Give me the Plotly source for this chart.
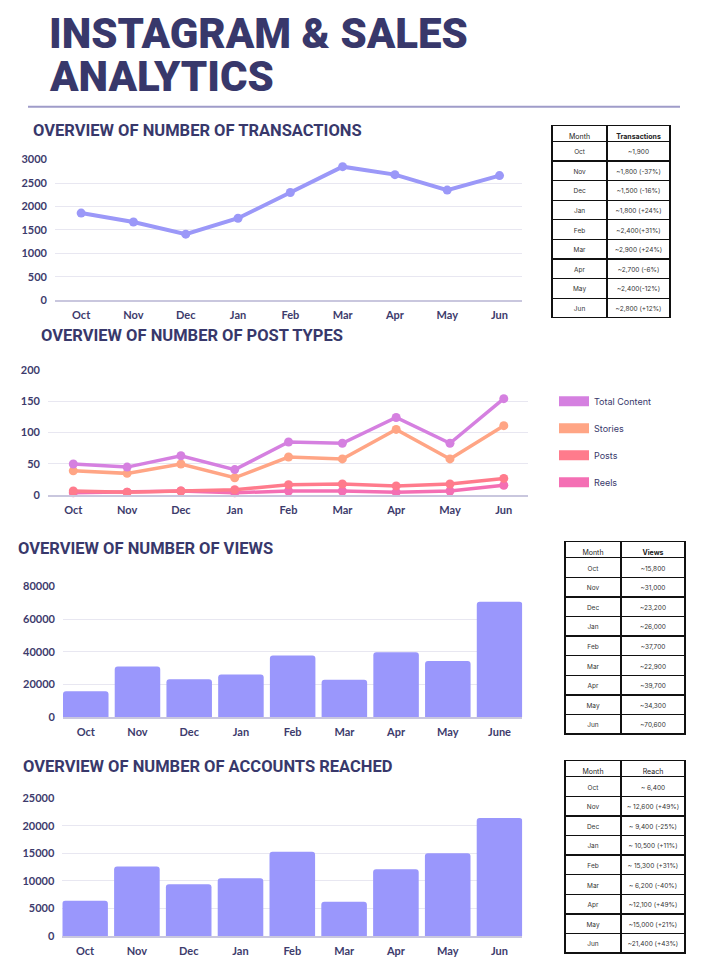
import plotly.graph_objects as go

W, H = 726, 968

months = ["Oct", "Nov", "Dec", "Jan", "Feb", "Mar", "Apr", "May", "Jun"]
views_months = ["Oct", "Nov", "Dec", "Jan", "Feb", "Mar", "Apr", "May", "June"]

transactions = [1860, 1670, 1410, 1750, 2300, 2850, 2680, 2350, 2660]

total_content = [50, 45, 63, 41, 85, 83, 124, 83, 154]
stories = [39, 35, 50, 28, 61, 58, 105, 58, 111]
posts = [7, 5, 7, 9, 17, 18, 15, 18, 27]
reels = [4, 5, 7, 4, 7, 7, 5, 7, 16]

views = [15800, 31000, 23200, 26000, 37700, 22900, 39700, 34300, 70600]
reach = [6400, 12600, 9400, 10500, 15300, 6200, 12100, 15000, 21400]

trans_table = ["~1,900", "~1,800 (-37%)", "~1,500 (-16%)", "~1,800 (+24%)", "~2,400(+31%)",
               "~2,900 (+24%)", "~2,700 (-6%)", "~2,400(-12%)", "~2,800 (+12%)"]
views_table = ["~15,800", "~31,000", "~23,200", "~26,000", "~37,700",
               "~22,900", "~39,700", "~34,300", "~70,600"]
reach_table = ["~ 6,400", "~ 12,600 (+49%)", "~ 9,400 (-25%)", "~ 10,500 (+11%)", "~ 15,300 (+31%)",
               "~ 6,200 (-40%)", "~12,100 (+49%)", "~15,000 (+21%)", "~21,400 (+43%)"]

NAVY = "#38386b"
GRID = "#e8e7f1"
AXIS = "#c9c7de"
BAR = "#9a97fc"
TICKFONT = dict(family="Lato", size=11, color="#3d3b6c", weight="bold")


def px_x(p):
    return p / W


def px_y(p):
    return 1 - p / H


fig = go.Figure()

# Chart 1: transactions
fig.add_trace(go.Scatter(x=months, y=transactions, mode="lines+markers",
                         line=dict(color="#9b98f8", width=4), marker=dict(size=9, color="#9b98f8"),
                         xaxis="x", yaxis="y", showlegend=False, cliponaxis=False))

# Chart 2: post types
series = [("Total Content", total_content, "#d580e0"),
          ("Stories", stories, "#ffa585"),
          ("Posts", posts, "#ff7b8c"),
          ("Reels", reels, "#f46fb4")]
for name, vals, col in reversed(series):
    fig.add_trace(go.Scatter(x=months, y=vals, mode="lines+markers", name=name,
                             line=dict(color=col, width=3.5), marker=dict(size=9, color=col),
                             xaxis="x2", yaxis="y2", showlegend=False, cliponaxis=False))
for name, vals, col in series:
    fig.add_trace(go.Scatter(x=[None], y=[None], mode="lines", name=name, legendgroup=name,
                             line=dict(color=col, width=10), xaxis="x2", yaxis="y2"))

# Chart 3: views
fig.add_trace(go.Bar(x=views_months, y=views, marker=dict(color=BAR, line=dict(width=0)),
                     xaxis="x3", yaxis="y3", showlegend=False))
# Chart 4: reach
fig.add_trace(go.Bar(x=months, y=reach, marker=dict(color=BAR, line=dict(width=0)),
                     xaxis="x4", yaxis="y4", showlegend=False))


def nb(vals):
    return [v.replace(" ", "\u00a0") for v in vals]


# Tables
def add_table(vals, header2, bold2, x0, x1, y0):
    fig.add_trace(go.Table(
        domain=dict(x=[px_x(x0), px_x(x1)], y=[px_y(y0 + 200), px_y(y0)]),
        columnwidth=[56, 64],
        header=dict(values=["Month", header2], height=16, align="center",
                    line=dict(color="#111111", width=1.3), fill=dict(color="white"),
                    font=dict(family="Inter", size=7, color="#222222",
                              weight=["normal", "bold" if bold2 else "normal"])),
        cells=dict(values=[months, nb(vals)], height=19.6, align="center",
                   line=dict(color="#111111", width=1.3), fill=dict(color="white"),
                   font=dict(family="Inter", size=6.5, color="#333333")),
    ))


add_table(trans_table, "Transactions", True, 552, 671, 120)
add_table(views_table, "Views", True, 565, 686, 542)
add_table(reach_table, "Reach", False, 565, 686, 764)


def xax(domain, rng, standoff=4):
    return dict(domain=[px_x(domain[0]), px_x(domain[1])], type="category", range=rng,
                showgrid=False, showline=True, linecolor=AXIS, linewidth=1.5, zeroline=False,
                ticks="", tickfont=TICKFONT, ticklabelstandoff=standoff, fixedrange=True)


def yax(domain, rng, dtick, standoff=7):
    return dict(domain=[px_y(domain[1]), px_y(domain[0])], range=rng, dtick=dtick,
                showgrid=True, gridcolor=GRID, gridwidth=1.2, zeroline=False, showline=False,
                ticks="", tickfont=TICKFONT, ticklabelstandoff=standoff, fixedrange=True,
                tickformat="d")


annotations = [
    dict(text="INSTAGRAM & SALES", x=px_x(47), y=px_y(27), xref="paper", yref="paper",
         xanchor="left", yanchor="middle", showarrow=False,
         font=dict(family="Roboto", size=42, color=NAVY, weight=900)),
    dict(text="ANALYTICS", x=px_x(47), y=px_y(70), xref="paper", yref="paper",
         xanchor="left", yanchor="middle", showarrow=False,
         font=dict(family="Roboto", size=42, color=NAVY, weight=900)),
]
for txt, x, y in [("OVERVIEW OF NUMBER OF TRANSACTIONS", 31, 125),
                  ("OVERVIEW OF NUMBER OF POST TYPES", 39, 333),
                  ("OVERVIEW OF NUMBER OF VIEWS", 16, 549),
                  ("OVERVIEW OF NUMBER OF ACCOUNTS REACHED", 21, 770)]:
    annotations.append(dict(text=txt, x=px_x(x), y=px_y(y), xref="paper", yref="paper",
                            xanchor="left", yanchor="middle", showarrow=False,
                            font=dict(family="Roboto", size=16.5, color=NAVY, weight="bold")))

fig.update_layout(
    width=W, height=H, margin=dict(l=0, r=0, t=0, b=0),
    paper_bgcolor="white", plot_bgcolor="white",
    bargap=0.12, barcornerradius=3,
    xaxis=xax((55, 522), [-0.5, 8.43]),
    yaxis=yax((154.7, 297.3), [0, 3000], 500),
    xaxis2=xax((48, 528), [-0.47, 8.45]),
    yaxis2=yax((367.7, 495), [0, 200], 50),
    xaxis3=xax((63, 522.3), [-0.44, 8.44]),
    yaxis3=yax((587.3, 719.7), [0, 80000], 20000),
    xaxis4=xax((62.3, 522.3), [-0.44, 8.44]),
    yaxis4=yax((802, 941.7), [0, 25000], 5000),
    legend=dict(x=px_x(554), y=px_y(385), xanchor="left", yanchor="top",
                font=dict(family="Inter", size=9, color=NAVY), tracegroupgap=8,
                itemwidth=30, bgcolor="rgba(0,0,0,0)"),
    shapes=[dict(type="line", xref="paper", yref="paper", x0=px_x(28), x1=px_x(680),
                 y0=px_y(101), y1=px_y(101), line=dict(color="#9f9cc9", width=2))],
    annotations=annotations,
)
fig.update_layout(xaxis2_anchor="y2", yaxis2_anchor="x2", xaxis3_anchor="y3", yaxis3_anchor="x3",
                  xaxis4_anchor="y4", yaxis4_anchor="x4")

post = ("document.documentElement.style.margin='0';document.body.style.margin='0';"
        "document.body.style.padding='0';document.body.style.overflow='hidden';"
        "document.documentElement.style.overflow='hidden';"
        "var d=document.querySelector('.plotly-graph-div');"
        "d.style.position='absolute';d.style.top='0px';d.style.left='0px';")
fig.write_html("out.html", post_script=post, config={"displayModeBar": False})
